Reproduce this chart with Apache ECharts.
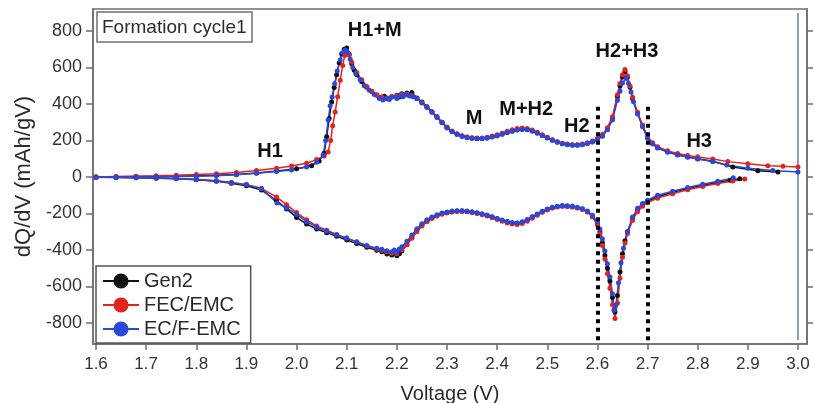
<!DOCTYPE html>
<html>
<head>
<meta charset="utf-8">
<script src="https://cdn.jsdelivr.net/npm/echarts@6/dist/echarts.min.js"></script>
<style>
  html, body { margin: 0; padding: 0; background: #fff; }
  #chart { width: 815px; height: 403px; }
</style>
</head>
<body>
<div id="chart"></div>
<script>
// dQ/dV profiles of the first formation cycle, [voltage (V), dQ/dV (mAh/gV)]
const gen2Charge = [
  [1.60,0],[1.64,1],[1.68,2],[1.72,3],[1.76,4],[1.80,6],[1.84,9],[1.88,14],[1.92,22],[1.96,32],
  [2.00,45],[2.03,62],[2.045,88],[2.055,130],[2.06,220],[2.065,320],[2.07,410],[2.075,490],[2.08,560],
  [2.085,625],[2.09,675],[2.095,700],[2.10,706],[2.105,672],[2.11,620],[2.115,585],[2.12,560],[2.13,522],
  [2.14,492],[2.15,468],[2.16,448],[2.17,436],[2.175,442],[2.18,428],[2.19,440],[2.20,446],[2.205,438],
  [2.21,456],[2.215,448],[2.22,460],[2.225,452],[2.23,462],[2.24,432],[2.25,410],[2.26,385],[2.27,357],
  [2.28,330],[2.29,300],[2.30,272],[2.31,250],[2.32,235],[2.33,224],[2.34,217],[2.35,213],[2.36,210],
  [2.37,211],[2.38,214],[2.39,220],[2.40,226],[2.41,235],[2.42,244],[2.43,252],[2.44,258],[2.45,262],
  [2.46,260],[2.47,253],[2.48,242],[2.49,228],[2.50,215],[2.51,202],[2.52,192],[2.53,183],[2.54,178],
  [2.55,175],[2.56,175],[2.57,178],[2.58,184],[2.59,193],[2.60,205],[2.61,225],[2.62,262],[2.63,320],
  [2.64,440],[2.645,500],[2.65,548],[2.655,578],[2.66,548],[2.665,492],[2.67,430],[2.68,350],[2.69,280],
  [2.70,215],[2.71,183],[2.72,160],[2.74,138],[2.76,122],[2.78,110],[2.80,100],[2.83,86],[2.87,55],
  [2.92,34],[2.96,27]
];
const fecCharge = [
  [1.60,0],[1.64,2],[1.68,4],[1.72,6],[1.76,9],[1.80,13],[1.84,18],[1.88,25],[1.92,35],[1.96,48],
  [1.99,60],[2.02,75],[2.04,95],[2.055,115],[2.063,137],[2.068,200],[2.072,280],[2.077,356],[2.082,440],
  [2.087,530],[2.092,610],[2.096,665],[2.10,680],[2.105,668],[2.11,628],[2.12,572],[2.13,532],[2.14,496],
  [2.15,470],[2.16,450],[2.17,438],[2.18,434],[2.19,440],[2.20,444],[2.21,452],[2.22,455],[2.23,446],
  [2.24,428],[2.25,408],[2.26,383],[2.27,356],[2.28,328],[2.29,300],[2.30,272],[2.31,251],[2.32,236],
  [2.33,226],[2.34,219],[2.35,215],[2.36,213],[2.37,214],[2.38,218],[2.39,224],[2.40,231],[2.41,240],
  [2.42,250],[2.43,258],[2.44,265],[2.45,268],[2.46,265],[2.47,257],[2.48,245],[2.49,231],[2.50,217],
  [2.51,204],[2.52,193],[2.53,185],[2.54,180],[2.55,177],[2.56,177],[2.57,180],[2.58,187],[2.59,197],
  [2.60,210],[2.61,232],[2.62,270],[2.63,330],[2.64,450],[2.645,512],[2.65,560],[2.655,588],[2.66,555],
  [2.665,498],[2.67,436],[2.68,355],[2.69,285],[2.70,220],[2.71,188],[2.72,166],[2.74,143],[2.76,128],
  [2.78,118],[2.80,110],[2.83,98],[2.86,84],[2.90,72],[2.94,62],[2.97,58],[3.00,55]
];
const ecfCharge = [
  [1.60,-2],[1.64,-1],[1.68,0],[1.72,1],[1.76,2],[1.80,4],[1.84,7],[1.88,12],[1.92,20],[1.96,30],
  [1.99,38],[2.02,55],[2.04,80],[2.053,120],[2.058,200],[2.063,312],[2.067,390],[2.071,438],[2.076,510],
  [2.081,580],[2.087,641],[2.092,680],[2.097,695],[2.102,682],[2.107,645],[2.112,600],[2.118,565],
  [2.127,531],[2.135,500],[2.145,475],[2.155,452],[2.165,430],[2.172,422],[2.18,430],[2.185,424],
  [2.19,438],[2.20,430],[2.205,448],[2.212,440],[2.218,452],[2.225,444],[2.232,440],[2.24,430],[2.25,405],
  [2.26,380],[2.27,354],[2.28,326],[2.29,297],[2.30,268],[2.31,248],[2.32,233],[2.33,222],[2.34,215],
  [2.35,211],[2.36,209],[2.37,210],[2.38,213],[2.39,219],[2.40,226],[2.41,234],[2.42,243],[2.43,251],
  [2.44,257],[2.45,260],[2.46,258],[2.47,251],[2.48,240],[2.49,226],[2.50,213],[2.51,200],[2.52,190],
  [2.53,182],[2.54,177],[2.55,174],[2.56,174],[2.57,177],[2.58,183],[2.59,192],[2.60,204],[2.61,224],
  [2.62,258],[2.63,312],[2.64,420],[2.645,470],[2.65,515],[2.657,540],[2.662,512],[2.667,465],[2.672,412],
  [2.68,345],[2.69,275],[2.70,212],[2.71,180],[2.72,158],[2.74,136],[2.76,120],[2.78,108],[2.80,98],
  [2.83,84],[2.858,66],[2.90,48],[2.95,36],[3.00,27]
];
const gen2Discharge = [
  [1.60,-2],[1.64,-3],[1.68,-5],[1.72,-7],[1.76,-10],[1.80,-15],[1.84,-24],[1.87,-34],[1.90,-48],
  [1.93,-72],[1.96,-130],[1.98,-175],[2.00,-222],[2.02,-258],[2.04,-285],[2.06,-305],[2.08,-325],
  [2.10,-345],[2.12,-365],[2.14,-385],[2.16,-402],[2.17,-410],[2.18,-422],[2.19,-428],[2.195,-418],
  [2.20,-432],[2.205,-420],[2.21,-405],[2.22,-370],[2.23,-330],[2.24,-292],[2.25,-262],[2.26,-240],
  [2.27,-224],[2.28,-212],[2.29,-202],[2.30,-195],[2.31,-190],[2.32,-187],[2.33,-187],[2.34,-189],
  [2.35,-193],[2.36,-198],[2.37,-204],[2.38,-211],[2.39,-220],[2.40,-229],[2.41,-238],[2.42,-246],
  [2.43,-252],[2.44,-254],[2.45,-248],[2.46,-236],[2.47,-220],[2.48,-205],[2.49,-190],[2.50,-178],
  [2.51,-168],[2.52,-162],[2.53,-159],[2.54,-160],[2.55,-163],[2.56,-168],[2.57,-176],[2.58,-190],
  [2.59,-215],[2.60,-255],[2.605,-300],[2.61,-360],[2.615,-430],[2.62,-500],[2.625,-570],[2.63,-660],
  [2.635,-740],[2.64,-650],[2.645,-520],[2.65,-420],[2.655,-350],[2.66,-300],[2.67,-228],[2.68,-180],
  [2.69,-152],[2.70,-134],[2.72,-108],[2.75,-84],[2.78,-64],[2.81,-46],[2.84,-30],[2.865,-18],[2.884,-10]
];
const fecDischarge = [
  [1.60,-1],[1.64,-2],[1.68,-4],[1.72,-6],[1.76,-9],[1.80,-14],[1.84,-22],[1.87,-31],[1.90,-42],
  [1.93,-62],[1.96,-110],[1.98,-152],[2.00,-195],[2.02,-235],[2.04,-268],[2.06,-292],[2.08,-315],
  [2.10,-335],[2.12,-356],[2.14,-378],[2.16,-395],[2.17,-402],[2.18,-410],[2.19,-418],[2.195,-408],
  [2.20,-420],[2.21,-400],[2.22,-372],[2.23,-336],[2.24,-300],[2.25,-268],[2.26,-245],[2.27,-228],
  [2.28,-214],[2.29,-204],[2.30,-197],[2.31,-192],[2.32,-189],[2.33,-189],[2.34,-191],[2.35,-195],
  [2.36,-200],[2.37,-206],[2.38,-214],[2.39,-223],[2.40,-233],[2.41,-243],[2.42,-252],[2.43,-258],
  [2.44,-261],[2.45,-255],[2.46,-242],[2.47,-226],[2.48,-210],[2.49,-194],[2.50,-181],[2.51,-170],
  [2.52,-164],[2.53,-161],[2.54,-162],[2.55,-165],[2.56,-170],[2.57,-178],[2.58,-192],[2.59,-218],
  [2.60,-262],[2.605,-310],[2.61,-375],[2.615,-450],[2.62,-530],[2.625,-610],[2.63,-700],[2.635,-775],
  [2.64,-690],[2.645,-555],[2.65,-440],[2.655,-362],[2.66,-310],[2.67,-238],[2.68,-190],[2.69,-160],
  [2.70,-141],[2.72,-116],[2.75,-92],[2.78,-70],[2.81,-52],[2.84,-36],[2.87,-22],[2.894,-11]
];
const ecfDischarge = [
  [1.60,-1],[1.64,-2],[1.68,-3],[1.72,-5],[1.76,-8],[1.80,-13],[1.84,-21],[1.87,-30],[1.90,-42],
  [1.93,-64],[1.961,-142],[1.98,-170],[2.00,-205],[2.02,-245],[2.04,-275],[2.06,-298],[2.08,-318],
  [2.10,-335],[2.12,-355],[2.14,-375],[2.16,-390],[2.17,-396],[2.18,-404],[2.19,-410],[2.195,-400],
  [2.20,-412],[2.205,-395],[2.21,-382],[2.22,-352],[2.23,-318],[2.24,-284],[2.25,-256],[2.26,-235],
  [2.27,-219],[2.28,-207],[2.29,-198],[2.30,-192],[2.31,-187],[2.32,-185],[2.33,-185],[2.34,-187],
  [2.35,-191],[2.36,-196],[2.37,-202],[2.38,-209],[2.39,-218],[2.40,-227],[2.41,-236],[2.42,-244],
  [2.43,-250],[2.44,-252],[2.45,-246],[2.46,-233],[2.47,-218],[2.48,-203],[2.49,-188],[2.50,-176],
  [2.51,-166],[2.52,-160],[2.53,-157],[2.54,-158],[2.55,-161],[2.56,-166],[2.57,-174],[2.58,-187],
  [2.59,-210],[2.60,-245],[2.605,-285],[2.61,-340],[2.615,-405],[2.62,-475],[2.625,-548],[2.63,-640],
  [2.633,-730],[2.637,-700],[2.642,-580],[2.647,-470],[2.652,-390],[2.66,-300],[2.67,-220],[2.68,-172],
  [2.69,-145],[2.70,-127],[2.72,-100],[2.75,-78],[2.78,-58],[2.81,-40],[2.84,-24],[2.871,-5]
];

// right-hand limit marker at 3.0 V
const limitLine = [[3.0, 898], [3.0, -893]];
// dotted guides bracketing the H2 region
const guideVoltages = [2.6, 2.7];
const guideTop = 385;

// phase-transition labels: [text, voltage, dQ/dV]
const peakLabels = [
  ['H1', 1.947, 137],
  ['H1+M', 2.156, 805],
  ['M', 2.354, 323],
  ['M+H2', 2.458, 367],
  ['H2', 2.559, 274],
  ['H2+H3', 2.659, 685],
  ['H3', 2.803, 197]
];

const xTicks = [1.6, 1.7, 1.8, 1.9, 2.0, 2.1, 2.2, 2.3, 2.4, 2.5, 2.6, 2.7, 2.8, 2.9, 3.0];
const yTicks = [-800, -600, -400, -200, 0, 200, 400, 600, 800];

const seriesNames = ['Gen2', 'FEC/EMC', 'EC/F-EMC'];
const seriesColors = ['#111111', '#e3231f', '#2a48dc'];
const chargeData = [gen2Charge, fecCharge, ecfCharge];
const dischargeData = [gen2Discharge, fecDischarge, ecfDischarge];

const FONT = '"Liberation Sans", Arial, sans-serif';
const AXIS_COLOR = '#6e6e6e';
const TEXT_COLOR = '#2b2b2b';

const chart = echarts.init(document.getElementById('chart'), null, { renderer: 'canvas' });

function curve(name, color, data) {
  return {
    type: 'line',
    name: name,
    data: data,
    symbol: 'circle',
    symbolSize: 5,
    showSymbol: true,
    animation: false,
    color: color,
    itemStyle: { color: color },
    lineStyle: { color: color, width: 1.5 },
    emphasis: { disabled: true },
    z: 3
  };
}

const series = [];
for (let i = 0; i < seriesNames.length; i++) {
  series.push(curve(seriesNames[i], seriesColors[i], chargeData[i]));
  series.push(curve(seriesNames[i], seriesColors[i], dischargeData[i]));
}

series.push({
  type: 'line',
  name: 'limit',
  data: limitLine,
  symbol: 'none',
  lineStyle: { color: '#8f9bc9', width: 2 },
  animation: false,
  silent: true,
  z: 2
});

series.push({
  type: 'line',
  name: 'guides',
  data: [],
  animation: false,
  silent: true,
  markLine: {
    silent: true,
    symbol: 'none',
    animation: false,
    label: { show: false },
    lineStyle: { color: '#000', width: 4, type: [4, 4.5] },
    data: guideVoltages.map(v => [{ coord: [v, guideTop] }, { coord: [v, -915] }])
  },
  markPoint: {
    silent: true,
    animation: false,
    symbol: 'circle',
    symbolSize: 0,
    label: {
      show: true,
      position: 'inside',
      formatter: p => p.name,
      fontFamily: FONT,
      fontSize: 20,
      fontWeight: 'bold',
      color: '#111'
    },
    data: peakLabels.map(a => ({ name: a[0], coord: [a[1], a[2]] }))
  },
  z: 4
});

const option = {
  backgroundColor: '#ffffff',
  animation: false,
  textStyle: { fontFamily: FONT },
  grid: {
    left: 93, right: 8, top: 9, bottom: 59,
    containLabel: false,
    outerBoundsMode: 'none',
    show: true, borderColor: AXIS_COLOR, borderWidth: 1.5, backgroundColor: 'transparent'
  },
  title: {
    text: 'Formation cycle1',
    left: 97, top: 12,
    padding: [6, 6, 5, 5],
    borderColor: '#707070',
    borderWidth: 1.5,
    backgroundColor: '#fff',
    textStyle: { fontFamily: FONT, fontSize: 19, fontWeight: 'normal', color: TEXT_COLOR }
  },
  legend: {
    data: seriesNames,
    orient: 'vertical',
    left: 96, top: 266,
    padding: [5, 10, 4, 6],
    itemGap: 4,
    itemWidth: 36,
    itemHeight: 19,
    backgroundColor: '#fff',
    borderColor: '#555',
    borderWidth: 1.5,
    selectedMode: false,
    textStyle: { fontFamily: FONT, fontSize: 20, color: TEXT_COLOR }
  },
  xAxis: {
    type: 'value',
    min: 1.594, max: 3.018,
    name: 'Voltage (V)',
    nameLocation: 'middle',
    nameGap: 40,
    nameTextStyle: { fontFamily: FONT, fontSize: 20, color: TEXT_COLOR },
    axisLine: { show: true, onZero: false, lineStyle: { color: AXIS_COLOR, width: 1.5 } },
    axisTick: { show: true, inside: false, length: 6, customValues: xTicks, lineStyle: { color: AXIS_COLOR, width: 1.5 } },
    axisLabel: {
      customValues: xTicks, margin: 12, fontFamily: FONT, fontSize: 17, color: '#333',
      formatter: v => v.toFixed(1)
    },
    splitLine: { show: false }
  },
  yAxis: [{
    type: 'value',
    min: -915, max: 920,
    name: 'dQ/dV (mAh/gV)',
    nameLocation: 'middle',
    nameGap: 53,
    nameRotate: 90,
    nameTextStyle: { fontFamily: FONT, fontSize: 22, color: TEXT_COLOR },
    axisLine: { show: true, onZero: false, lineStyle: { color: AXIS_COLOR, width: 1.5 } },
    axisTick: { show: true, inside: false, length: 7, customValues: yTicks, lineStyle: { color: AXIS_COLOR, width: 1.5 } },
    axisLabel: { customValues: yTicks, margin: 11, fontFamily: FONT, fontSize: 18, color: '#333' },
    splitLine: { show: false }
  }, {
    type: 'value',
    position: 'right',
    min: -915, max: 920,
    axisLine: { show: true, onZero: false, lineStyle: { color: AXIS_COLOR, width: 1.5 } },
    axisTick: { show: true, inside: false, length: 6, customValues: yTicks, lineStyle: { color: AXIS_COLOR, width: 1.5 } },
    axisLabel: { show: false },
    splitLine: { show: false }
  }],
  series: series
};

chart.setOption(option);
</script>
</body>
</html>
